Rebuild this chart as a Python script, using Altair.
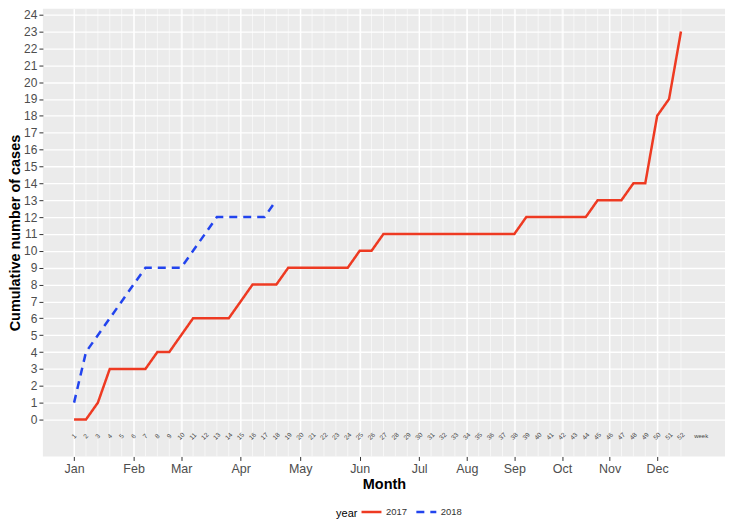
import altair as alt
import pandas as pd

# ---- data ----
weeks_2017 = list(range(1, 53))
cases_2017 = [0, 0, 1, 3, 3, 3, 3, 4, 4, 5,
              6, 6, 6, 6, 7, 8, 8, 8, 9, 9,
              9, 9, 9, 9, 10, 10, 11, 11, 11, 11,
              11, 11, 11, 11, 11, 11, 11, 11, 12, 12,
              12, 12, 12, 12, 13, 13, 13, 14, 14, 18,
              19, 23]
weeks_2018 = list(range(1, 19))
cases_2018 = [1, 4, 5, 6, 7, 8, 9, 9, 9, 9, 10, 11, 12, 12, 12, 12, 12, 13]

month_weeks = [1, 6, 10, 15, 20, 25, 30, 34, 38, 42, 46, 50]
month_names = ["Jan", "Feb", "Mar", "Apr", "May", "Jun",
               "Jul", "Aug", "Sep", "Oct", "Nov", "Dec"]
week_labels = [str(w) for w in weeks_2017]
y_ticks = list(range(0, 25))
years = ["2017", "2018"]
colors = ["#EE3A22", "#2244EE"]

lines_df = pd.DataFrame({
    "week": weeks_2017 + weeks_2018,
    "cases": cases_2017 + cases_2018,
    "year": ["2017"] * len(weeks_2017) + ["2018"] * len(weeks_2018),
})
weeks_df = pd.DataFrame({"week": weeks_2017, "label": week_labels})
weekword_df = pd.DataFrame({"week": [53.7], "label": ["week"]})

FONT = "Liberation Sans"
xscale = alt.Scale(domain=[-1.62, 55.7], nice=False, zero=False)
yscale = alt.Scale(domain=[-2.19, 24.35], nice=False, zero=False)

label_expr = ("[" + ",".join("'%s'" % m for m in month_names) + "][indexof(["
              + ",".join(str(v) for v in month_weeks) + "], datum.value)]")

xaxis = alt.Axis(values=month_weeks, labelExpr=label_expr, title="Month",
                 grid=True, gridColor="white", gridWidth=1.3,
                 tickSize=4, tickColor="#333333", domain=False,
                 labelColor="#4D4D4D", labelFontSize=12.5, labelFont=FONT,
                 labelPadding=2, titleFont=FONT, titleFontSize=14.5,
                 titleFontWeight="bold", titleColor="black", titlePadding=3)
yaxis = alt.Axis(values=y_ticks, title="Cumulative number of cases",
                 grid=True, gridColor="white", gridWidth=1.3,
                 tickSize=4, tickColor="#333333", domain=False,
                 labelColor="#4D4D4D", labelFontSize=12, labelFont=FONT,
                 labelPadding=2, labelOverlap=False,
                 titleFont=FONT, titleFontSize=14.5,
                 titleFontWeight="bold", titleColor="black", titlePadding=1)

def xenc():
    return alt.X("week:Q", scale=xscale, axis=xaxis)

def ydatum():
    return alt.datum(-1, scale=yscale, axis=yaxis)

grid = alt.Chart(weeks_df).mark_rule(color="white", strokeWidth=0.6).encode(
    x=xenc()
)

lines = alt.Chart(lines_df).mark_line(strokeWidth=2.5).encode(
    x=xenc(),
    y=alt.Y("cases:Q", scale=yscale, axis=yaxis),
    color=alt.Color("year:N", scale=alt.Scale(domain=years, range=colors),
                    legend=alt.Legend(
                        title="year", orient="none", legendX=294, legendY=493,
                        direction="horizontal", titleOrient="left",
                        titleBaseline="top", titleAnchor="middle",
                        titleFontWeight="normal", titleFontSize=11,
                        titleFont=FONT, titleColor="black",
                        labelFont=FONT, labelFontSize=9.5, labelColor="#333333",
                        labelOffset=3,
                        symbolType="stroke", symbolSize=400,
                        symbolStrokeWidth=2.5, columnPadding=3,
                        titlePadding=2)),
    strokeDash=alt.StrokeDash("year:N",
                              scale=alt.Scale(domain=years, range=[[1, 0], [8, 6]]),
                              legend=None),
)

wk_text = alt.Chart(weeks_df).mark_text(
    fontSize=6.5, angle=315, color="#444444", font=FONT
).encode(
    x=xenc(),
    y=ydatum(),
    text="label:N",
)

wk_word = alt.Chart(weekword_df).mark_text(
    fontSize=6, color="#444444", font=FONT
).encode(
    x=xenc(),
    y=ydatum(),
    text="label:N",
)

chart = alt.layer(grid, lines, wk_text, wk_word).properties(
    width=684, height=449,
    autosize=alt.AutoSizeParams(type="none"),
    padding={"left": 35, "top": 0, "right": 0, "bottom": 62},
    background="white",
).configure_view(fill="#EBEBEB", stroke=None)

chart.save("out.html", embed_options={"renderer": "svg", "actions": False})
